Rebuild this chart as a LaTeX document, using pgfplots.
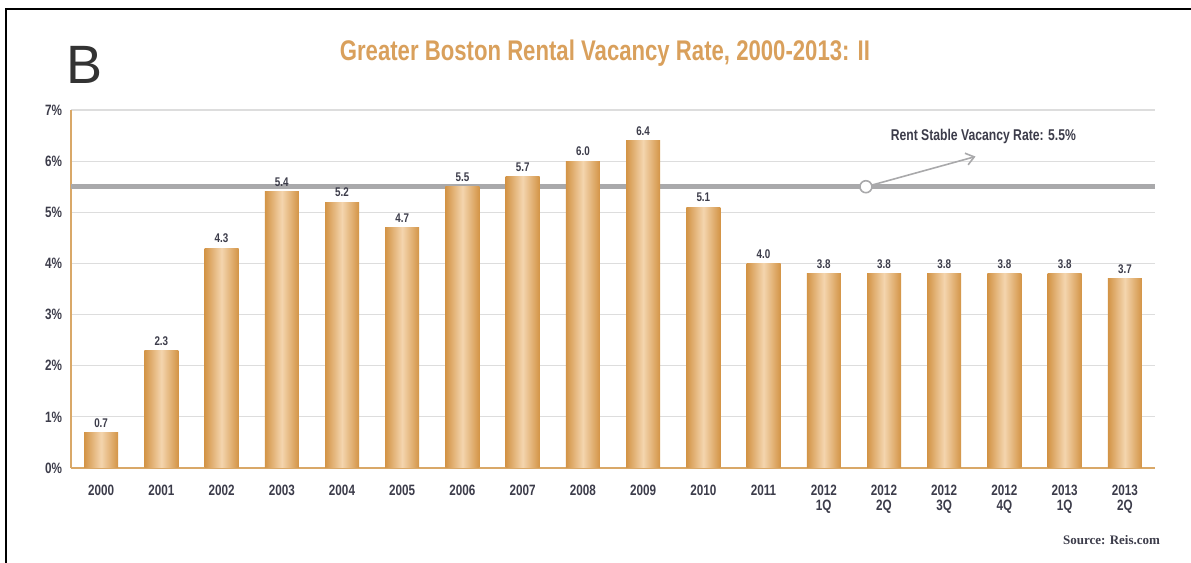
\documentclass[border=0pt]{standalone}
\usepackage{pgfplots}
\pgfplotsset{compat=1.18}
\usepackage{fontspec}
\setmainfont{Liberation Sans}
\newfontfamily\condfont[FakeStretch=0.78]{Liberation Sans}
\newfontfamily\seriffont{Liberation Serif}
\usetikzlibrary{arrows.meta}
\definecolor{bard}{HTML}{D39446}
\definecolor{barl}{HTML}{F4D5AE}
\definecolor{titlec}{HTML}{D9A05C}
\definecolor{axisc}{HTML}{D9A868}
\definecolor{gridc}{HTML}{DDDDDD}
\definecolor{refc}{HTML}{A9A9AB}
\definecolor{txtc}{HTML}{3C3C4A}
\pgfplotsset{
  mybar/.style={ybar, bar width=17pt, bar shift=0pt, draw=none,
    left color=bard, right color=bard, middle color=barl,
    nodes near coords={\pgfmathprintnumber[fixed,fixed zerofill,precision=1,assume math mode=true]{\pgfplotspointmeta}},
    every node near coord/.append style={font=\condfont\bfseries\fontsize{6.3}{6.3}\selectfont, text=txtc, yshift=-1pt}}
}
\begin{document}
\begin{tikzpicture}
\begin{axis}[
  at={(35.5pt,47.5pt)}, anchor=south west,
  scale only axis,
  width=542pt, height=179pt,
  xmin=-0.5, xmax=17.5, ymin=0, ymax=7,
  axis x line*=bottom, axis y line*=left,
  axis line style={axisc, line width=0.9pt, -},
  ymajorgrids, grid style={gridc, line width=0.6pt},
  major tick length=0pt,
  ytick={0,1,...,7},
  yticklabels={0\%,1\%,2\%,3\%,4\%,5\%,6\%,7\%},
  xtick={0,...,17},
  xticklabels={2000,2001,2002,2003,2004,2005,2006,2007,2008,2009,2010,2011,{2012\\1Q},{2012\\2Q},{2012\\3Q},{2012\\4Q},{2013\\1Q},{2013\\2Q}},
  xticklabel style={align=center, font=\condfont\bfseries\fontsize{7.5}{7.5}\selectfont, text=txtc, anchor=north, yshift=-5pt},
  yticklabel style={font=\condfont\bfseries\fontsize{7.5}{8}\selectfont, text=txtc, xshift=-1pt},
  clip=false,
]
\addplot[refc, line width=2.6pt, forget plot] coordinates {(-0.5,5.5) (17.5,5.5)};
\addplot[mybar] coordinates {(0,0.7)};
\addplot[mybar] coordinates {(1,2.3)};
\addplot[mybar] coordinates {(2,4.3)};
\addplot[mybar] coordinates {(3,5.4)};
\addplot[mybar] coordinates {(4,5.2)};
\addplot[mybar] coordinates {(5,4.7)};
\addplot[mybar] coordinates {(6,5.5)};
\addplot[mybar] coordinates {(7,5.7)};
\addplot[mybar] coordinates {(8,6.0)};
\addplot[mybar] coordinates {(9,6.4)};
\addplot[mybar] coordinates {(10,5.1)};
\addplot[mybar] coordinates {(11,4.0)};
\addplot[mybar] coordinates {(12,3.8)};
\addplot[mybar] coordinates {(13,3.8)};
\addplot[mybar] coordinates {(14,3.8)};
\addplot[mybar] coordinates {(15,3.8)};
\addplot[mybar] coordinates {(16,3.8)};
\addplot[mybar] coordinates {(17,3.7)};
\draw[refc, line width=0.8pt, -{Straight Barb[length=4pt,width=6pt]}] (axis cs:12.7,5.5) -- (axis cs:14.52,6.09);
\filldraw[fill=white, draw=refc, line width=0.8pt] (axis cs:12.7,5.5) circle (3pt);
\node[font=\condfont\bfseries\fontsize{7.8}{7.8}\selectfont, text=txtc] at (axis cs:14.65,6.48) {Rent Stable Vacancy Rate: 5.5\%};
\end{axis}
\draw[black, line width=1pt] (3pt,0) -- (3pt,277pt) -- (595.5pt,277pt);
\node[font=\condfont\bfseries\fontsize{14.2}{14.2}\selectfont, text=titlec] at (302.5pt,255pt) {Greater Boston Rental Vacancy Rate, 2000-2013: II};
\node[font=\fontsize{27}{27}\selectfont, text=black!80] at (42.5pt,249pt) {B};
\node[font=\seriffont\bfseries\fontsize{6.5}{6.5}\selectfont, text=txtc, anchor=east] at (583.5pt,11.5pt) {Source: Reis.com};
\pgfresetboundingbox
\path (0,0) rectangle (595.5pt,281.5pt);
\end{tikzpicture}
\end{document}
